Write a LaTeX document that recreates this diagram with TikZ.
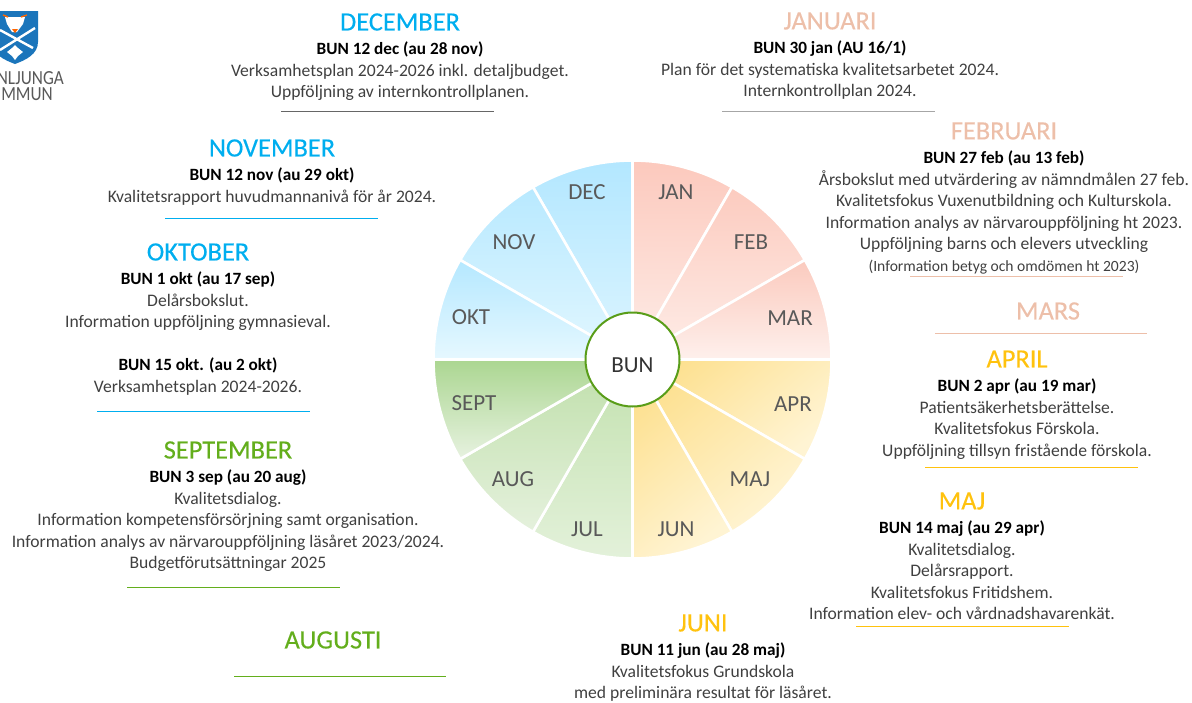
\documentclass[tikz,border=0pt]{standalone}
\usepackage{fontspec}
\setmainfont{Carlito}
\newfontfamily\headfont[FakeBold=0.3]{Carlito}
\usetikzlibrary{positioning}
\definecolor{winter}{HTML}{00AEEF}
\definecolor{spring}{HTML}{EDBFA9}
\definecolor{summer}{HTML}{FFC20E}
\definecolor{autumn}{HTML}{63AE1C}
\definecolor{bodytext}{HTML}{404040}
\definecolor{monthtext}{HTML}{595959}
\definecolor{crest}{HTML}{1B75BB}
\definecolor{sunup}{HTML}{FDE08F}
\definecolor{sunlo}{HTML}{FFF4D3}
\tikzset{head/.style = {inner sep=0pt, text=#1, font=\headfont\fontsize{26.4}{28}\selectfont}}
\tikzset{body/.style = {inner sep=0pt, below=8.7pt of #1, align=center, text=bodytext, font=\fontsize{17.6}{21.5}\selectfont}}
\tikzset{rule/.style = {draw=#1, line width=1pt}}
\tikzset{month/.style = {inner sep=0pt, text=monthtext, font=\fontsize{23}{24}\selectfont}}
\tikzset{wedge/.style n args = {2}{top color=#1, bottom color=#2, draw=white, line width=2.6pt}}
\tikzset{logotext/.style = {anchor=east, inner sep=0pt, text=black!65, font=\fontsize{20}{22}\selectfont, xscale=0.86, transform shape}}
\newcommand{\bun}[1]{\textcolor{black}{\fontsize{17.2}{21.5}\selectfont\textbf{\strut #1}}}
\begin{document}
\begin{tikzpicture}[x=1pt, y=-1pt]
	\useasboundingbox (0,0) rectangle (1192,702);
	% Wheel
	\coordinate (hub) at (632.5,359.5);
	\foreach \from/\hexup/\hexlo in {
		-90/FCC9BD/FEEDE8, -60/FCCBBF/FEEDE8, -30/FBCABE/FEF0EC,
		-120/B3E7FF/DDF5FF, -150/B8E9FF/E2F7FF, 180/B5E8FF/E6F8FF,
		90/C2E1AE/E3F1DA, 120/BFDFAA/E5F1DD, 150/ABD691/E7F2E0}{
		\definecolor{up}{HTML}{\hexup}
		\definecolor{lo}{HTML}{\hexlo}
		\shade[wedge={up}{lo}] (hub) -- ++(\from:199) arc[start angle=\from, end angle=\from+30, radius=199] -- cycle;
	}
	\foreach \from in {0, 30, 60}{
		\shade[wedge={sunup}{sunlo}, shading angle=40] (hub) -- ++(\from:199) arc[start angle=\from, end angle=\from+30, radius=199] -- cycle;
	}
	% Hub
	\node [circle, draw=autumn!90!black, fill=white, line width=2pt, minimum size=94pt, inner sep=0pt, font=\fontsize{23}{24}\selectfont, text=black!80] (bun) at (hub) {\smash{\raisebox{-12.5pt}{BUN}}};
	% Month names on the wheel
	\foreach \name/\x/\y in {JAN/676/192, FEB/751/242, MAR/790/318, APR/793/404, MAJ/750/479, JUN/676/529, JUL/587/529, AUG/513/479, SEPT/474/403, OKT/471/317, NOV/514/242, DEC/587/192}{
		\node [month] (wheel-\name) at (\x,\y) {\name};
	}
	% December
	\node [head=winter] (dec) at (400,22) {DECEMBER};
	\node [body=dec] (dec-text) {\bun{BUN 12 dec (au 28 nov)}\\Verksamhetsplan 2024-2026 inkl. detaljbudget.\\Uppföljning av internkontrollplanen.};
	\draw[rule=black!60] (281,111.5) -- (494,111.5);
	% January
	\node [head=spring] (jan) at (830,21) {JANUARI};
	\node [body=jan] (jan-text) {\bun{BUN 30 jan (AU 16/1)}\\Plan för det systematiska kvalitetsarbetet 2024.\\Internkontrollplan 2024.};
	\draw[rule=black!35] (722,111.5) -- (935,111.5);
	% February
	\node [head=spring] (feb) at (1004,131) {FEBRUARI};
	\node [body=feb] (feb-text) {\bun{BUN 27 feb (au 13 feb)}\\Årsbokslut med utvärdering av nämndmålen 27 feb.\\Kvalitetsfokus Vuxenutbildning och Kulturskola.\\Information analys av närvarouppföljning ht 2023.\\Uppföljning barns och elevers utveckling\\{\fontsize{15.6}{20}\selectfont (Information betyg och omdömen ht 2023)}};
	\draw[rule=spring] (910,276) -- (1123,276);
	% March
	\node [head=spring] (mar) at (1048,311) {MARS};
	\draw[rule=spring] (935,333.5) -- (1147,333.5);
	% April
	\node [head=summer] (apr) at (1017,359) {APRIL};
	\node [body=apr] (apr-text) {\bun{BUN 2 apr (au 19 mar)}\\Patientsäkerhetsberättelse.\\Kvalitetsfokus Förskola.\\Uppföljning tillsyn fristående förskola.};
	\draw[rule=summer] (925,467.5) -- (1138,467.5);
	% May
	\node [head=summer] (maj) at (962,501) {MAJ};
	\node [body=maj] (maj-text) {\bun{BUN 14 maj (au 29 apr)}\\Kvalitetsdialog.\\Delårsrapport.\\Kvalitetsfokus Fritidshem.\\Information elev- och vårdnadshavarenkät.};
	\draw[rule=summer] (856,626) -- (1069,626);
	% June
	\node [head=summer] (jun) at (703,623) {JUNI};
	\node [body=jun] (jun-text) {\bun{BUN 11 jun (au 28 maj)}\\Kvalitetsfokus Grundskola\\med preliminära resultat för läsåret.};
	% August
	\node [head=autumn] (aug) at (333,640) {AUGUSTI};
	\draw[rule=autumn] (234,676) -- (446,676);
	% September
	\node [head=autumn] (sep) at (228,450) {SEPTEMBER};
	\node [body=sep] (sep-text) {\bun{BUN 3 sep (au 20 aug)}\\Kvalitetsdialog.\\Information kompetensförsörjning samt organisation.\\Information analys av närvarouppföljning läsåret 2023/2024.\\Budgetförutsättningar 2025};
	\draw[rule=autumn] (127,587.5) -- (340,587.5);
	% October
	\node [head=winter] (okt) at (198,252) {OKTOBER};
	\node [body=okt] (okt-text) {\bun{BUN 1 okt (au 17 sep)}\\Delårsbokslut.\\Information uppföljning gymnasieval.\\[21.5pt]\bun{BUN 15 okt. (au 2 okt)}\\Verksamhetsplan 2024-2026.};
	\draw[rule=winter] (97,411.5) -- (310,411.5);
	% November
	\node [head=winter] (nov) at (272,148) {NOVEMBER};
	\node [body=nov] (nov-text) {\bun{BUN 12 nov (au 29 okt)}\\Kvalitetsrapport huvudmannanivå för år 2024.};
	\draw[rule=winter] (165,218) -- (378,218);
	% Crest
	\fill[crest] (-8,11) -- (38,11) -- (38,42) .. controls (38,54) and (26,60) .. (15,64) .. controls (4,60) and (-8,54) .. (-8,42) -- cycle;
	\fill[white] (5,17) -- (25,17) -- (23,24) -- (17,32) -- (12,32) -- (7,24) -- cycle;
	\draw[orange!80!red, line width=1.4pt] (3,15) -- (8,17) (27,15) -- (21,17);
	\fill[orange!80!red] (12,29) -- (18,29) -- (15,33) -- cycle;
	\draw[white, line width=2.4pt] (0,30) -- (33,48) (35,28) -- (0,50);
	\fill[white] (15,45) -- (18,48) -- (23,52) -- (18,56) -- (15,60) -- (12,56) -- (7,52) -- (12,48) -- cycle;
	\node [logotext] (town) at (64,78) {NLJUNGA};
	\node [logotext] (kommun) at (53,94) {MMUN};
\end{tikzpicture}
\end{document}
